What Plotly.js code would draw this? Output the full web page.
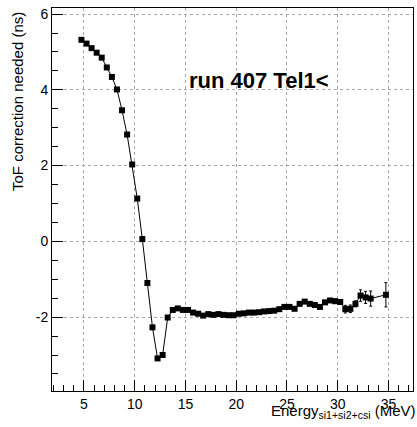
<!DOCTYPE html>
<html>
<head>
<meta charset="utf-8">
<script src="https://cdn.plot.ly/plotly-3.0.1.min.js"></script>
<style>html,body{margin:0;padding:0;background:#fff;}#chart{width:417px;height:427px;}</style>
</head>
<body>
<div id="chart"></div>
<script>
const energy = [4.75,5.25,5.75,6.25,6.75,7.25,7.75,8.25,8.75,9.25,9.75,10.25,10.75,11.25,11.75,12.25,12.75,13.25,13.75,14.25,14.75,15.25,15.75,16.25,16.75,17.25,17.75,18.25,18.75,19.25,19.75,20.25,20.75,21.25,21.75,22.25,22.75,23.25,23.75,24.25,24.75,25.25,25.75,26.25,26.75,27.25,27.75,28.25,28.75,29.25,29.75,30.25,30.75,31.25,31.75,32.25,32.75,33.25,34.75];
const tofCorr = [5.32,5.22,5.10,4.98,4.85,4.59,4.34,4.01,3.46,2.82,2.03,1.13,0.06,-1.10,-2.27,-3.09,-3.00,-2.01,-1.81,-1.77,-1.81,-1.81,-1.88,-1.91,-1.96,-1.92,-1.94,-1.92,-1.94,-1.95,-1.95,-1.91,-1.90,-1.88,-1.88,-1.87,-1.85,-1.84,-1.83,-1.79,-1.73,-1.73,-1.78,-1.65,-1.59,-1.65,-1.68,-1.73,-1.61,-1.56,-1.58,-1.60,-1.79,-1.78,-1.65,-1.43,-1.48,-1.51,-1.41];
const tofErr = [0.02,0.02,0.02,0.02,0.02,0.02,0.02,0.02,0.02,0.02,0.02,0.02,0.02,0.02,0.02,0.02,0.02,0.02,0.02,0.02,0.02,0.02,0.02,0.02,0.02,0.02,0.02,0.02,0.02,0.02,0.02,0.02,0.02,0.02,0.02,0.02,0.02,0.02,0.02,0.02,0.02,0.03,0.03,0.03,0.03,0.03,0.04,0.04,0.05,0.05,0.06,0.06,0.10,0.10,0.08,0.15,0.16,0.20,0.32];
const xTicks = [5,10,15,20,25,30,35];
const yTicks = [-2,0,2,4,6];
const labelText = "run 407 Tel1<";
const xTitle = "Energy<sub>si1+si2+csi</sub> (MeV)";
const yTitle = "ToF correction needed (ns)";

const FONT = "Liberation Sans, Arial, Helvetica, sans-serif";

const trace = {
  x: energy, y: tofCorr, type: 'scatter', mode: 'lines+markers',
  line: {color: '#000', width: 1},
  marker: {symbol: 'square', size: 6, color: '#000'},
  error_y: {type: 'data', array: tofErr, visible: true, color: '#000', thickness: 1, width: 1.5},
  showlegend: false, hoverinfo: 'skip'
};

const axisCommon = {
  showline: true, linecolor: '#000', linewidth: 1, mirror: true,
  ticks: 'inside', ticklen: 11, tickcolor: '#000', tickwidth: 1,
  showgrid: true, gridcolor: '#a8a8a8', griddash: 'dot', gridwidth: 1,
  zeroline: false,
  tickfont: {family: FONT, size: 14, color: '#000'}
};

const layout = {
  width: 417, height: 427,
  margin: {l: 52, r: 4, t: 8, b: 36},
  paper_bgcolor: '#fff', plot_bgcolor: '#fff',
  font: {family: FONT, color: '#000'},
  xaxis: Object.assign({}, axisCommon, {
    range: [1.85, 37.42], tickmode: 'array', tickvals: xTicks, ticktext: xTicks.map(String),
    minor: {dtick: 1, tick0: 0, ticks: 'inside', ticklen: 6, tickcolor: '#000', showgrid: false}
  }),
  yaxis: Object.assign({}, axisCommon, {
    range: [-3.95, 6.16], tickmode: 'array', tickvals: yTicks, ticktext: yTicks.map(String),
    minor: {dtick: 0.5, tick0: 0, ticks: 'inside', ticklen: 6, tickcolor: '#000', showgrid: false}
  }),
  annotations: [
    {text: labelText, xref: 'x', yref: 'y', x: 15.15, y: 4.24, xanchor: 'left', yanchor: 'middle',
     showarrow: false, font: {family: FONT, size: 22, color: '#000', weight: 'bold'}},
    {text: xTitle, xref: 'paper', yref: 'paper', x: 1, y: 0, xanchor: 'right', yanchor: 'top',
     yshift: -9, xshift: 4, showarrow: false, font: {family: FONT, size: 15, color: '#000'}},
    {text: yTitle, xref: 'paper', yref: 'paper', x: 0, y: 1, xanchor: 'right', yanchor: 'top',
     xshift: -24, yshift: -2, textangle: -90, showarrow: false, font: {family: FONT, size: 15, color: '#000'}}
  ]
};

Plotly.newPlot('chart', [trace], layout, {staticPlot: true, displayModeBar: false});
</script>
</body>
</html>
